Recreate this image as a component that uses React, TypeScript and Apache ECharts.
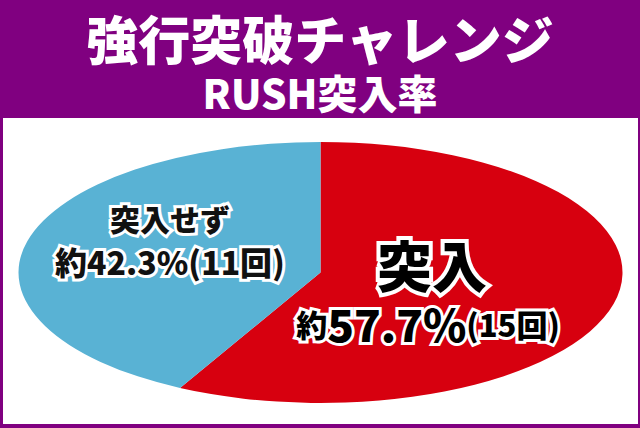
import React from 'react';
import * as echarts from 'echarts';

const names = ['突入', '突入せず'];
const percents = [57.7, 42.3];
const counts = [15, 11];
const colors = ['#D7000F', '#59B2D4'];

const titleMain = '強行突破チャレンジ';
const titleSub = 'RUSH突入率';

const FONT = '"Noto Sans CJK JP", "Noto Sans", sans-serif';

// ellipse pie geometry
const CX = 320.5;
const CY = 272.5;
const RX = 302;
const RY = 130.5;

const App: React.FC = () => {
  const chartRef = React.useRef<HTMLDivElement>(null);

  React.useEffect(() => {
    if (!chartRef.current) return;
    const chart = echarts.init(chartRef.current, undefined, { renderer: 'svg' });

    const total = percents.reduce((s, v) => s + v, 0);
    const starts: number[] = [];
    let acc = 0;
    percents.forEach(v => {
      starts.push(acc);
      acc += v;
    });

    const outline = { stroke: '#fff', lineWidth: 6 };

    chart.setOption({
      animation: false,
      backgroundColor: '#800080',
      title: [
        {
          text: titleMain,
          left: 'center',
          top: 9,
          padding: 0,
          textStyle: { color: '#fff', fontSize: 52, lineHeight: 56, fontWeight: 900, fontFamily: FONT },
        },
        {
          text: titleSub,
          left: 'center',
          top: 71,
          padding: 0,
          textStyle: { color: '#fff', fontSize: 40, lineHeight: 42, fontWeight: 900, fontFamily: FONT },
        },
      ],
      graphic: [
        {
          type: 'rect',
          z: 0,
          shape: { x: 3, y: 118, width: 635, height: 306 },
          style: { fill: '#fff' },
        },
        {
          type: 'text',
          z: 100,
          x: 170,
          y: 218,
          style: {
            text: names[1],
            fill: '#111',
            ...outline,
            font: `900 30px ${FONT}`,
            lineHeight: 32,
            align: 'center',
            verticalAlign: 'middle',
          },
        },
        {
          type: 'text',
          z: 100,
          x: 170,
          y: 261,
          style: {
            text: `約${percents[1]}%(${counts[1]}回)`,
            fill: '#111',
            ...outline,
            font: `900 32px ${FONT}`,
            lineHeight: 34,
            align: 'center',
            verticalAlign: 'middle',
          },
        },
        {
          type: 'text',
          z: 100,
          x: 432,
          y: 263,
          style: {
            text: names[0],
            fill: '#000',
            stroke: '#fff',
            lineWidth: 8,
            font: `900 55px ${FONT}`,
            lineHeight: 54,
            align: 'center',
            verticalAlign: 'middle',
          },
        },
        {
          type: 'text',
          z: 100,
          x: 428,
          y: 323,
          style: {
            text: `{a|約}{b|${percents[0]}%}{a|(${counts[0]}回)}`,
            align: 'center',
            verticalAlign: 'middle',
            rich: {
              a: { fill: '#000', ...outline, font: `900 31px ${FONT}`, lineHeight: 40 },
              b: { fill: '#000', ...outline, font: `900 44px ${FONT}`, lineHeight: 40 },
            },
          },
        },
      ],
      series: [
        {
          type: 'custom',
          coordinateSystem: 'none',
          z: 10,
          data: percents.map((v, i) => [v, starts[i], i]),
          renderItem: (_params: any, api: any) => {
            const value = api.value(0);
            const start = api.value(1);
            const idx = api.value(2);
            const a0 = -Math.PI / 2 + (start / total) * Math.PI * 2;
            const a1 = a0 + (value / total) * Math.PI * 2;
            return {
              type: 'group',
              x: CX,
              y: CY,
              scaleY: RY / RX,
              children: [
                {
                  type: 'sector',
                  shape: { cx: 0, cy: 0, r: RX, r0: 0, startAngle: a0, endAngle: a1, clockwise: true },
                  style: { fill: colors[idx] },
                },
              ],
            };
          },
        },
      ],
    });

    return () => {
      chart.dispose();
    };
  }, []);

  return (
    <div
      ref={chartRef}
      style={{ position: 'fixed', left: 0, top: 0, width: '640px', height: '428px' }}
    />
  );
};

export default App;
